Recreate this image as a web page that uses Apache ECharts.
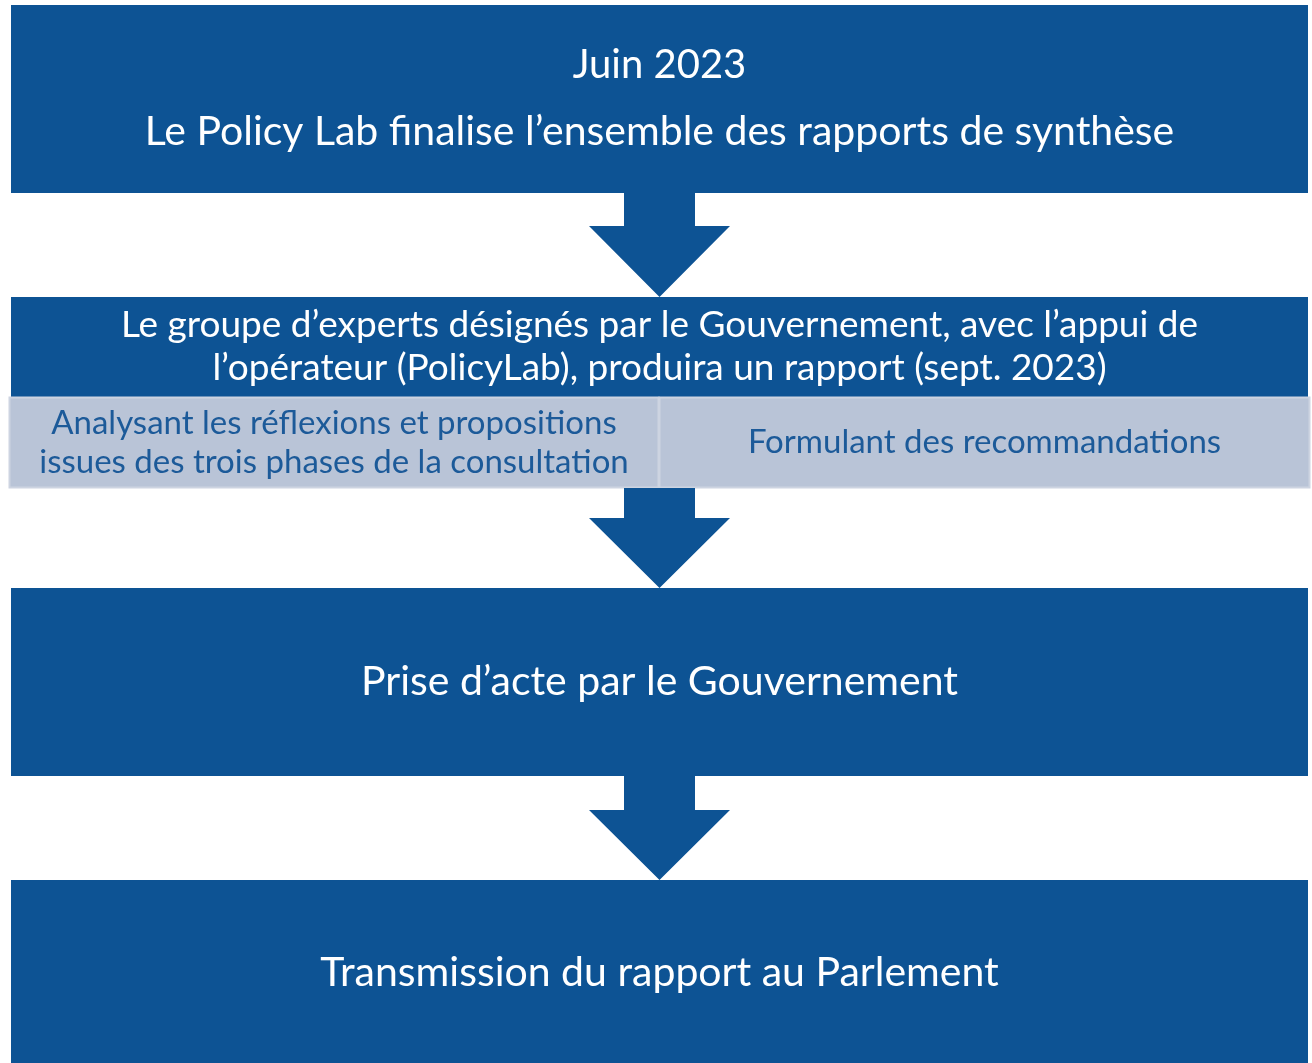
<!DOCTYPE html>
<html>
<head>
<meta charset="utf-8">
<script src="https://cdn.jsdelivr.net/npm/echarts@6/dist/echarts.min.js"></script>
<style>
html,body{margin:0;padding:0;background:#fff;}
#chart{width:1312px;height:1063px;}
</style>
</head>
<body>
<div id="chart"></div>
<script>
// ---- data ----
var stepLines = [
  ["Juin 2023", "Le Policy Lab finalise l’ensemble des rapports de synthèse"],
  ["Le groupe d’experts désignés par le Gouvernement, avec l’appui de", "l’opérateur (PolicyLab), produira un rapport (sept. 2023)"],
  ["Prise d’acte par le Gouvernement"],
  ["Transmission du rapport au Parlement"]
];
var subLines = [
  ["Analysant les réflexions et propositions", "issues des trois phases de la consultation"],
  ["Formulant des recommandations"]
];
var arrowLinks = [[0, 1], [1, 2], [2, 3]];

// ---- layout (positions/sizes/styles) ----
var L = {
  box: [
    {x0: 11, x1: 1308, y0: 5, y1: 193, lineY: [65, 132], size: [40, 41]},
    {x0: 11, x1: 1308, y0: 297, y1: 397, lineY: [325, 368], size: [37, 37]},
    {x0: 11, x1: 1308, y0: 588, y1: 776, lineY: [682], size: [41]},
    {x0: 11, x1: 1308, y0: 880, y1: 1063, lineY: [973], size: [41]}
  ],
  sub: [
    {x0: 9, x1: 659, y0: 397, y1: 488, lineY: [423, 462], size: 33},
    {x0: 659, x1: 1310, y0: 397, y1: 488, lineY: [442], size: 33}
  ],
  arrow: [
    {top: 193, neck: 226, tip: 297},
    {top: 488, neck: 518, tip: 588},
    {top: 776, neck: 810, tip: 880}
  ],
  stem: [624, 695], head: [589, 730], cx: 659.5,
  blue: '#0D5394', light: '#B9C4D7', lightBorder: '#CDD4E1', subText: '#1C5A99',
  font: 'Lato, "Open Sans", sans-serif'
};

function P(api, x, y) { return api.coord([x, y]); }

var chart = echarts.init(document.getElementById('chart'), null, {renderer: 'canvas'});

function textEl(api, str, x, y, size, color) {
  var p = P(api, x, y);
  return {
    type: 'text',
    style: {
      text: str, x: p[0], y: p[1], align: 'center', verticalAlign: 'middle',
      fontSize: size, fontFamily: L.font, fill: color
    }
  };
}

var option = {
  animation: false,
  grid: {left: 0, right: 0, top: 0, bottom: 0},
  xAxis: {type: 'value', min: 0, max: 1312, show: false},
  yAxis: {type: 'value', min: 0, max: 1063, inverse: true, show: false},
  series: [
    {
      type: 'custom',
      data: stepLines.map(function (s, i) { return [i]; }),
      renderItem: function (params, api) {
        var i = api.value(0);
        var b = L.box[i];
        var a = P(api, b.x0, b.y0), c = P(api, b.x1, b.y1);
        var children = [{
          type: 'rect',
          shape: {x: a[0], y: a[1], width: c[0] - a[0], height: c[1] - a[1]},
          style: {fill: L.blue}
        }];
        stepLines[i].forEach(function (ln, k) {
          children.push(textEl(api, ln, L.cx, b.lineY[k], b.size[k], '#ffffff'));
        });
        return {type: 'group', children: children};
      }
    },
    {
      type: 'custom',
      data: subLines.map(function (s, i) { return [i]; }),
      renderItem: function (params, api) {
        var i = api.value(0);
        var b = L.sub[i];
        var a = P(api, b.x0, b.y0), c = P(api, b.x1, b.y1);
        var children = [{
          type: 'rect',
          shape: {x: a[0] + 0.5, y: a[1] + 0.5, width: c[0] - a[0] - 1, height: c[1] - a[1] - 1},
          style: {fill: L.light, stroke: L.lightBorder, lineWidth: 2}
        }];
        var cx = (b.x0 + b.x1) / 2;
        subLines[i].forEach(function (ln, k) {
          children.push(textEl(api, ln, cx, b.lineY[k], b.size, L.subText));
        });
        return {type: 'group', children: children};
      }
    },
    {
      type: 'custom',
      data: arrowLinks.map(function (s, i) { return [i]; }),
      renderItem: function (params, api) {
        var i = api.value(0);
        var ar = L.arrow[i];
        var pts = [
          [L.stem[0], ar.top], [L.stem[1], ar.top], [L.stem[1], ar.neck],
          [L.head[1], ar.neck], [L.cx, ar.tip], [L.head[0], ar.neck],
          [L.stem[0], ar.neck]
        ].map(function (q) { return P(api, q[0], q[1]); });
        return {type: 'polygon', shape: {points: pts}, style: {fill: L.blue}};
      }
    }
  ]
};
chart.setOption(option);
</script>
</body>
</html>
